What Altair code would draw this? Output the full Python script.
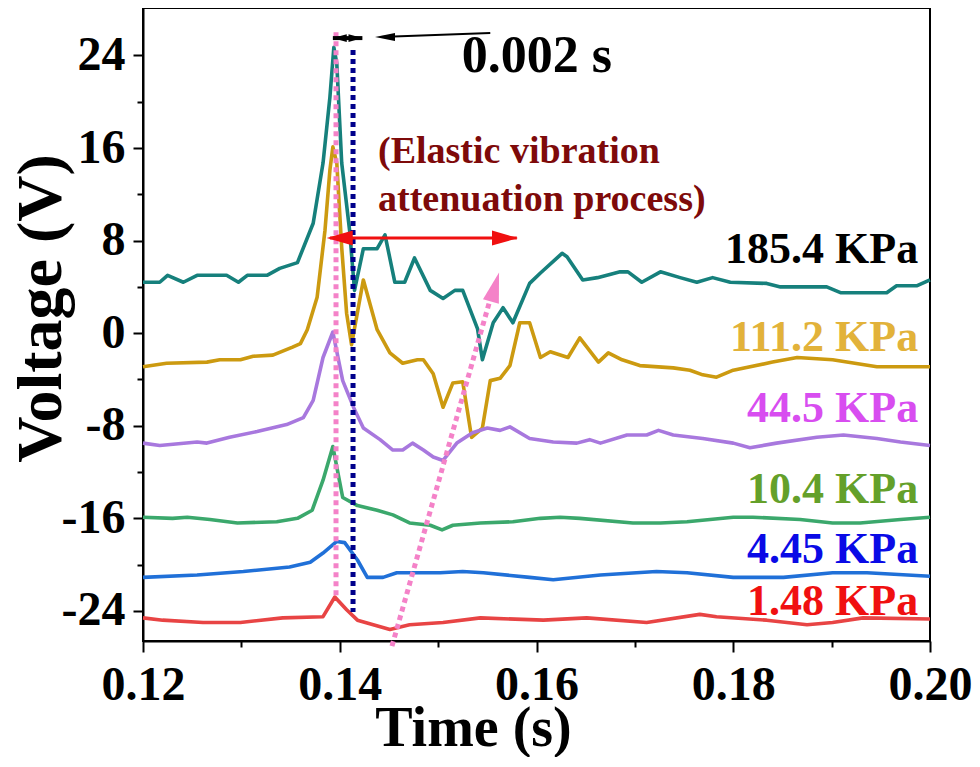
import altair as alt
import pandas as pd

FONT = "Liberation Serif"

# ---------------- data ----------------
series_names = ["185.4 KPa", "111.2 KPa", "44.5 KPa", "10.4 KPa", "4.45 KPa", "1.48 KPa"]
line_colors = ["#16807C", "#CC9A10", "#A878DE", "#3BA86C", "#2070D8", "#E84444"]
label_colors = ["#000000", "#E2B23A", "#D84DF0", "#64A02A", "#0A0AE6", "#F01010"]

t_185 = [0.1200, 0.1209, 0.1217, 0.1225, 0.1241, 0.1255, 0.1285, 0.1297, 0.1306, 0.1326,
         0.1339, 0.1357, 0.1373, 0.1383, 0.1390, 0.1394, 0.1397, 0.1402, 0.1410, 0.1415,
         0.1424, 0.1438, 0.1446, 0.1456, 0.1466, 0.1476, 0.1492, 0.1505, 0.1517, 0.1525,
         0.1540, 0.1545, 0.1556, 0.1566, 0.1576, 0.1593, 0.1604, 0.1626, 0.1631, 0.1647,
         0.1662, 0.1685, 0.1693, 0.1707, 0.1726, 0.1746, 0.1763, 0.1779, 0.1797, 0.1834,
         0.1848, 0.1895, 0.1909, 0.1956, 0.1966, 0.1987, 0.2000]
v_185 = [4.4, 4.4, 4.4, 5.0, 4.4, 5.0, 5.0, 4.4, 5.0, 5.0,
         5.6, 6.1, 9.5, 14.7, 20.4, 24.7, 23.3, 14.7, 8.9, 3.7,
         7.3, 7.3, 8.5, 4.4, 4.4, 6.5, 3.7, 3.0, 3.7, 3.7,
         0.4, -2.3, 0.9, 2.2, 0.9, 4.3, 5.2, 6.9, 6.6, 4.6,
         4.8, 5.3, 5.3, 4.4, 5.3, 4.8, 4.4, 4.8, 4.4, 4.3,
         4.0, 4.0, 3.5, 3.5, 4.1, 4.1, 4.6]

t_111 = [0.1200, 0.1224, 0.1265, 0.1278, 0.1299, 0.1312, 0.1332, 0.1352, 0.1360, 0.1367,
         0.1377, 0.1385, 0.1390, 0.1393, 0.1397, 0.1402, 0.1407, 0.1412, 0.1424, 0.1438,
         0.1451, 0.1464, 0.1479, 0.1485, 0.1495, 0.1505, 0.1515, 0.1525, 0.1534, 0.1545,
         0.1553, 0.1563, 0.1573, 0.1583, 0.1593, 0.1604, 0.1614, 0.1632, 0.1644, 0.1663,
         0.1673, 0.1687, 0.1705, 0.1739, 0.1756, 0.1769, 0.1783, 0.1800, 0.1840, 0.1865,
         0.1901, 0.1946, 0.2000]
v_111 = [-2.9, -2.6, -2.5, -2.3, -2.3, -2.0, -1.9, -1.2, -0.9, 0.3,
         3.1, 8.9, 14.1, 16.1, 14.7, 7.4, 1.7, -1.0, 4.6, 0.3,
         -1.7, -2.6, -2.3, -2.3, -3.5, -6.4, -4.3, -4.2, -9.0, -8.2,
         -4.1, -3.9, -2.8, 0.9, 0.9, -2.1, -1.6, -2.1, -0.4, -2.5,
         -1.7, -2.3, -2.8, -3.0, -3.2, -3.6, -3.8, -3.2, -2.5, -2.1,
         -2.3, -2.9, -2.9]

t_44 = [0.1200, 0.1217, 0.1255, 0.1265, 0.1288, 0.1316, 0.1346, 0.1363, 0.1373, 0.1383,
        0.1393, 0.1403, 0.1415, 0.1424, 0.1441, 0.1454, 0.1464, 0.1474, 0.1485, 0.1495,
        0.1505, 0.1519, 0.1535, 0.1550, 0.1563, 0.1573, 0.1593, 0.1617, 0.1641, 0.1654,
        0.1665, 0.1692, 0.1712, 0.1724, 0.1739, 0.1769, 0.1800, 0.1817, 0.1844, 0.1885,
        0.1912, 0.1946, 0.1970, 0.2000]
v_44 = [-9.5, -9.7, -9.4, -9.5, -9.0, -8.5, -7.9, -7.3, -5.8, -2.1,
        0.1, -4.1, -6.6, -8.2, -9.2, -10.1, -10.1, -9.5, -10.1, -10.7,
        -11.0, -9.5, -8.6, -8.2, -8.4, -8.1, -9.1, -9.4, -9.5, -9.2,
        -9.5, -8.8, -8.8, -8.4, -8.8, -9.1, -9.5, -9.9, -9.5, -9.0,
        -8.8, -9.1, -9.4, -9.7]

t_10 = [0.1200, 0.1230, 0.1245, 0.1268, 0.1296, 0.1336, 0.1357, 0.1372, 0.1383, 0.1393,
        0.1403, 0.1418, 0.1438, 0.1454, 0.1471, 0.1492, 0.1504, 0.1515, 0.1543, 0.1576,
        0.1604, 0.1624, 0.1644, 0.1698, 0.1726, 0.1753, 0.1800, 0.1820, 0.1868, 0.1901,
        0.1929, 0.1970, 0.2000]
v_10 = [-15.9, -16.0, -15.9, -16.1, -16.4, -16.3, -16.0, -15.3, -12.7, -9.8,
        -14.2, -14.9, -15.3, -15.7, -16.4, -16.6, -17.0, -16.6, -16.4, -16.3,
        -16.0, -15.9, -16.0, -16.4, -16.4, -16.3, -15.9, -15.9, -16.1, -16.4,
        -16.4, -16.1, -15.9]

t_4 = [0.1200, 0.1255, 0.1302, 0.1349, 0.1370, 0.1383, 0.1397, 0.1405, 0.1418, 0.1428,
       0.1444, 0.1458, 0.1502, 0.1525, 0.1546, 0.1593, 0.1617, 0.1665, 0.1722, 0.1753,
       0.1800, 0.1851, 0.1901, 0.1936, 0.2000]
v_4 = [-21.1, -20.9, -20.6, -20.2, -19.8, -19.0, -18.0, -18.1, -19.6, -21.1,
       -21.1, -20.7, -20.7, -20.6, -20.7, -21.1, -21.3, -20.9, -20.6, -20.7,
       -21.1, -21.1, -20.7, -20.7, -21.0]

t_1 = [0.1200, 0.1220, 0.1261, 0.1299, 0.1342, 0.1383, 0.1395, 0.1407, 0.1418, 0.1451,
       0.1471, 0.1505, 0.1543, 0.1607, 0.1651, 0.1712, 0.1766, 0.1783, 0.1834, 0.1875,
       0.1901, 0.1932, 0.2000]
v_1 = [-24.6, -24.8, -25.0, -25.0, -24.6, -24.5, -22.8, -23.9, -24.8, -25.6,
       -25.2, -25.0, -24.6, -24.8, -24.6, -25.0, -24.3, -24.5, -24.8, -25.2,
       -25.0, -24.6, -24.7]

series_times = [t_185, t_111, t_44, t_10, t_4, t_1]
series_volts = [v_185, v_111, v_44, v_10, v_4, v_1]

x_major = [0.12, 0.14, 0.16, 0.18, 0.20]
x_minor = [0.13, 0.15, 0.17, 0.19]
y_major = [-24, -16, -8, 0, 8, 16, 24]
y_minor = [-20, -12, -4, 4, 12, 20]

# annotation anchors (time, voltage)
label_t = 0.1988
label_v = [6.06, -1.55, -7.68, -14.68, -19.87, -24.36]
peak_t, peak_top, peak_bot = 0.13962, 26.0, -22.8
delay_t, delay_top, delay_bot = 0.14135, 24.47, -24.1
diag = {"t": 0.14531, "v": -27.04, "t2": 0.15527, "v2": 2.86}
diag_head = {"t": 0.15578, "v": 3.99}
red_arrow = {"t": 0.1390, "t2": 0.1580, "v": 8.22}
red_heads_t = [0.1400, 0.1568]
black_short = {"t": 0.1393, "t2": 0.1423, "v": 25.5}
black_short_heads_t = [0.1400, 0.1416]
black_long = {"t": 0.1441, "t2": 0.1553, "v": 25.6, "v2": 25.94}
black_long_head = {"t": 0.1446, "v": 25.6}

# ---------------- chart ----------------
rows = []
for name, ts, vs in zip(series_names, series_times, series_volts):
    assert len(ts) == len(vs), name
    rows += [{"series": name, "t": t, "v": v} for t, v in zip(ts, vs)]
df = pd.DataFrame(rows)

xs = alt.Scale(domain=[0.12, 0.20], nice=False, zero=False)
ys = alt.Scale(domain=[-26.6, 28.1], nice=False, zero=False)

x_axis = alt.Axis(
    values=x_major, format=".2f", tickSize=11,
    title="Time (s)", titleX=330, titleY=104, titleAlign="center",
    titleBaseline="alphabetic", titleFontSize=56,
    labelFontSize=48, labelPadding=9, labelFlush=False, labelOverlap=False, orient="bottom",
)
y_axis = alt.Axis(
    values=y_major, labelExpr="'' + datum.value", tickSize=10,
    title="Voltage (V)", titleX=-83, titleY=300, titleAngle=270, titleAlign="center",
    titleBaseline="alphabetic", titleFontSize=64,
    labelFontSize=48, labelPadding=8, labelFlush=False, labelOverlap=False, orient="left",
)

lines = alt.Chart(df).mark_line(strokeWidth=3.6, strokeJoin="round").encode(
    x=alt.X("t:Q", scale=xs, axis=x_axis),
    y=alt.Y("v:Q", scale=ys, axis=y_axis),
    color=alt.Color("series:N", scale=alt.Scale(domain=series_names, range=line_colors), legend=None),
)

minor = alt.Chart(df).mark_point(opacity=0, size=1).encode(
    x=alt.X("t:Q", scale=xs, axis=alt.Axis(values=x_minor, labels=False, tickSize=6, domain=False,
                                           title=None, orient="bottom")),
    y=alt.Y("v:Q", scale=ys, axis=alt.Axis(values=y_minor, labels=False, tickSize=6, domain=False,
                                           title=None, orient="left")),
)

def X(f="t"):
    return alt.X(f"{f}:Q", scale=xs, axis=None)

def Y(f="v"):
    return alt.Y(f"{f}:Q", scale=ys, axis=None)

pink = "#F482C8"
navy = "#00008B"

peak_line = alt.Chart(pd.DataFrame([{"t": peak_t, "v": peak_top, "v2": peak_bot}])).mark_rule(
    color=pink, strokeWidth=5, strokeDash=[5, 4], strokeCap="butt").encode(x=X(), y=Y(), y2="v2:Q")
delay_line = alt.Chart(pd.DataFrame([{"t": delay_t, "v": delay_top, "v2": delay_bot}])).mark_rule(
    color=navy, strokeWidth=5, strokeDash=[5, 4], strokeCap="butt").encode(x=X(), y=Y(), y2="v2:Q")
diag_line = alt.Chart(pd.DataFrame([diag])).mark_rule(
    color=pink, strokeWidth=5, strokeDash=[5, 4], strokeCap="butt").encode(x=X(), y=Y(), x2="t2:Q", y2="v2:Q")

HEAD = "M-1,-0.58L1,0L-1,0.58Z"
diag_arrow = alt.Chart(pd.DataFrame([diag_head])).mark_point(
    shape="M-1,-0.55L1,0L-1,0.55Z", filled=True, size=900, angle=285.7, color=pink, opacity=1, strokeWidth=0
).encode(x=X(), y=Y())

red_line = alt.Chart(pd.DataFrame([red_arrow])).mark_rule(color="#F01010", strokeWidth=3).encode(
    x=X(), x2="t2:Q", y=Y())
red_heads = alt.Chart(pd.DataFrame({"t": red_heads_t, "v": [red_arrow["v"]] * 2, "a": [180, 0]})).mark_point(
    shape=HEAD, filled=True, size=676, color="#F01010", opacity=1, strokeWidth=0
).encode(x=X(), y=Y(), angle=alt.Angle("a:Q", scale=None))

bs_line = alt.Chart(pd.DataFrame([black_short])).mark_rule(color="black", strokeWidth=4).encode(
    x=X(), x2="t2:Q", y=Y())
bs_heads = alt.Chart(pd.DataFrame({"t": black_short_heads_t, "v": [black_short["v"]] * 2, "a": [180, 0]})).mark_point(
    shape="M-1,-0.55L1,0L-1,0.55Z", filled=True, size=196, color="black", opacity=1, strokeWidth=0
).encode(x=X(), y=Y(), angle=alt.Angle("a:Q", scale=None))
bl_line = alt.Chart(pd.DataFrame([black_long])).mark_rule(color="black", strokeWidth=2).encode(
    x=X(), x2="t2:Q", y=Y(), y2="v2:Q")
bl_head = alt.Chart(pd.DataFrame([black_long_head])).mark_point(
    shape="M-1,-0.4L1,0L-1,0.4Z", filled=True, size=400, angle=180, color="black", opacity=1, strokeWidth=0
).encode(x=X(), y=Y())

texts = []
for name, col, v in zip(series_names, label_colors, label_v):
    texts.append(alt.Chart(pd.DataFrame([{"t": label_t, "v": v, "label": name}])).mark_text(
        font=FONT, fontWeight="bold", fontSize=44, align="right", baseline="alphabetic", color=col
    ).encode(x=X(), y=Y(), text="label:N"))

notes = pd.DataFrame([{"t": 0.1524, "v": 22.57, "label": "0.002 s"}])
texts.append(alt.Chart(notes).mark_text(
    font=FONT, fontWeight="bold", fontSize=52, align="left", baseline="alphabetic", color="black"
).encode(x=X(), y=Y(), text="label:N"))
elastic = pd.DataFrame([
    {"t": 0.14389, "v": 14.7, "label": "(Elastic vibration"},
    {"t": 0.14389, "v": 10.55, "label": "attenuation process)"},
])
texts.append(alt.Chart(elastic).mark_text(
    font=FONT, fontWeight="bold", fontSize=38, align="left", baseline="alphabetic", color="#7E0A0A"
).encode(x=X(), y=Y(), text="label:N"))

chart = alt.layer(
    lines, minor, peak_line, delay_line, diag_line, diag_arrow,
    red_line, red_heads, bs_line, bs_heads, bl_line, bl_head, *texts
).resolve_axis(
    x="independent", y="independent"
).properties(
    width=787, height=633,
    autosize=alt.AutoSizeParams(type="none"),
    padding={"left": 135, "top": 0, "right": 42, "bottom": 116},
    background="white",
).configure_view(
    stroke="black", strokeWidth=2
).configure_axis(
    grid=False, domainColor="black", domainWidth=2, tickColor="black", tickWidth=2,
    labelFont=FONT, titleFont=FONT, labelFontWeight="bold", titleFontWeight="bold",
    labelColor="black", titleColor="black",
)

chart.save("out.html", embed_options={"renderer": "svg", "actions": False})
